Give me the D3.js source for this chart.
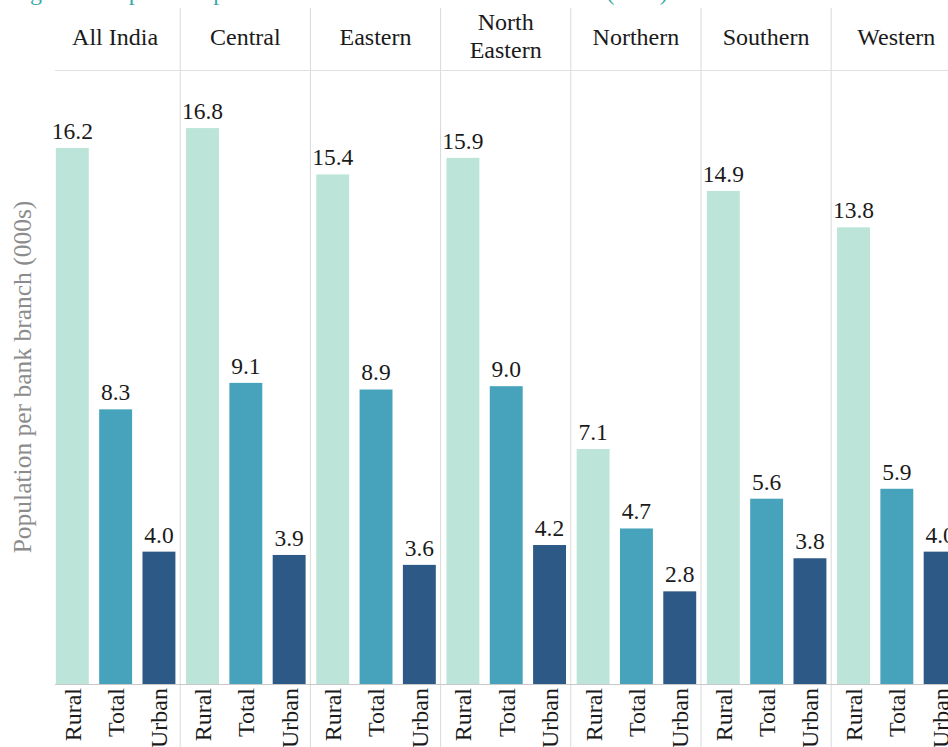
<!DOCTYPE html>
<html>
<head>
<meta charset="utf-8">
<script src="https://cdn.jsdelivr.net/npm/d3@7/dist/d3.min.js"></script>
<style>
  html, body { margin: 0; padding: 0; background: #fff; }
  svg { display: block; }
  svg text { font-family: "Liberation Serif", "DejaVu Serif", serif; }
</style>
</head>
<body>
<svg id="chart" width="948" height="747"></svg>
<script>
const regions = ["All India", "Central", "Eastern", "North Eastern", "Northern", "Southern", "Western"];
const areaTypes = ["Rural", "Total", "Urban"];
const ruralValues = [16.2, 16.8, 15.4, 15.9, 7.1, 14.9, 13.8];
const totalValues = [8.3, 9.1, 8.9, 9.0, 4.7, 5.6, 5.9];
const urbanValues = [4.0, 3.9, 3.6, 4.2, 2.8, 3.8, 4.0];
const areaColors = ["#bce4d9", "#47a3bb", "#2d5986"];
const titleText = "Figure 1: Population per bank branch in rural and urban areas (000s)";
const yAxisTitle = "Population per bank branch (000s)";

const seriesByType = { Rural: ruralValues, Total: totalValues, Urban: urbanValues };
const data = [];
regions.forEach((r, i) => areaTypes.forEach(t => data.push({ region: r, type: t, value: seriesByType[t][i] })));

const svg = d3.select("#chart");
const W = 948, H = 747;
const baseY = 684;
const panelW = 130.2;
const left = 50;

const x0 = d3.scaleBand().domain(regions).range([left, left + panelW * regions.length]);
const x1 = d3.scaleBand().domain(areaTypes).range([0, panelW]).paddingInner(0.24).paddingOuter(0.123).align(0.55);
const y = d3.scaleLinear().domain([0, 18]).range([baseY, baseY - 18 * 33.09]);
const color = d3.scaleOrdinal().domain(areaTypes).range(areaColors);

// title (mostly cropped at top)
svg.append("text")
  .attr("x", 10).attr("y", 0)
  .attr("fill", "#3aa9aa")
  .attr("font-size", 24)
  .text(titleText);

// panel dividers
regions.slice(1).forEach(r => {
  svg.append("line")
    .attr("x1", x0(r)).attr("x2", x0(r))
    .attr("y1", 8).attr("y2", H)
    .attr("stroke", "#d9d9d9").attr("stroke-width", 1);
});

// header line
svg.append("line")
  .attr("x1", 55).attr("x2", W).attr("y1", 70.5).attr("y2", 70.5)
  .attr("stroke", "#e0e0e0").attr("stroke-width", 1);

// headers
regions.forEach(r => {
  const cx = x0(r) + panelW / 2;
  const words = r === "North Eastern" ? ["North", "Eastern"] : [r];
  const t = svg.append("text")
    .attr("text-anchor", "middle")
    .attr("font-size", 24)
    .attr("fill", "#1a1a1a");
  if (words.length === 1) {
    t.append("tspan").attr("x", cx).attr("y", 45).text(words[0]);
  } else {
    t.append("tspan").attr("x", cx).attr("y", 30).text(words[0]);
    t.append("tspan").attr("x", cx).attr("y", 58).text(words[1]);
  }
});

// bars
const g = svg.append("g");
g.selectAll("rect").data(data).join("rect")
  .attr("x", d => x0(d.region) + x1(d.type))
  .attr("width", x1.bandwidth())
  .attr("y", d => y(d.value))
  .attr("height", d => y(0) - y(d.value))
  .attr("fill", d => color(d.type));

// value labels
g.selectAll("text.val").data(data).join("text")
  .attr("class", "val")
  .attr("x", d => x0(d.region) + x1(d.type) + x1.bandwidth() / 2)
  .attr("y", d => y(d.value) - 9)
  .attr("text-anchor", "middle")
  .attr("font-size", 23.5)
  .attr("fill", "#1a1a1a")
  .text(d => d3.format(".1f")(d.value));

// baseline axis
svg.append("line")
  .attr("x1", 55).attr("x2", W).attr("y1", baseY + 0.5).attr("y2", baseY + 0.5)
  .attr("stroke", "#c8c8c8").attr("stroke-width", 1);

// category labels (rotated)
g.selectAll("text.cat").data(data).join("text")
  .attr("class", "cat")
  .attr("transform", d => `translate(${x0(d.region) + x1(d.type) + x1.bandwidth() / 2},${baseY + 4}) rotate(-90)`)
  .attr("text-anchor", "end")
  .attr("dy", "0.35em")
  .attr("font-size", 24)
  .attr("fill", "#1a1a1a")
  .text(d => d.type);

// y axis title
svg.append("text")
  .attr("transform", `translate(22,377) rotate(-90)`)
  .attr("text-anchor", "middle")
  .attr("dy", "0.35em")
  .attr("font-size", 25.5)
  .attr("fill", "#8c8c8c")
  .text(yAxisTitle);
</script>
</body>
</html>
